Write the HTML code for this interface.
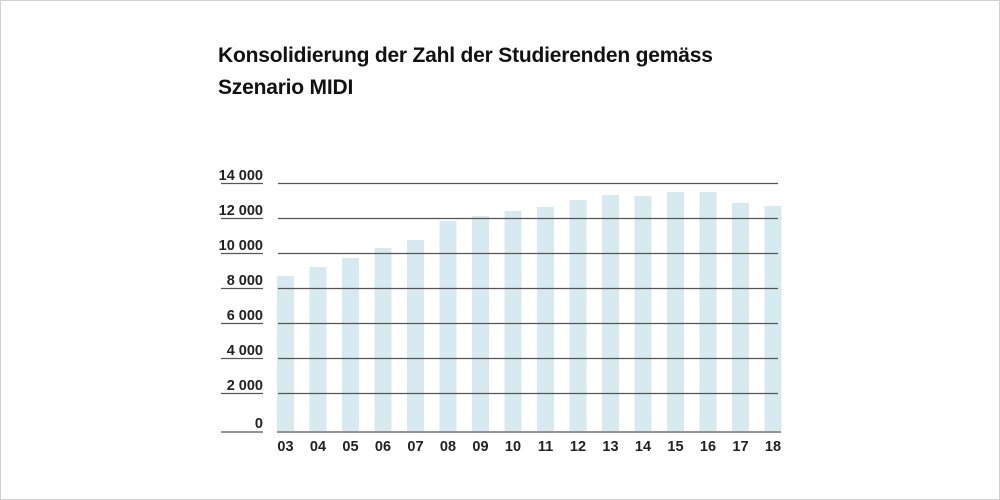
<!DOCTYPE html>
<html><head><style>
html,body{margin:0;padding:0;background:#fff}
body{width:1000px;height:500px;position:relative;overflow:hidden;font-family:"Liberation Sans",Arial,sans-serif}
.frame{position:absolute;left:0;top:0;width:998px;height:498px;border:1px solid #d0d0d0}
.t{position:absolute;left:218px;font-weight:bold;font-size:21px;color:#111;letter-spacing:-0.2px}
</style></head><body>
<div class="frame"></div>
<div class="t" style="top:44px">Konsolidierung der Zahl der Studierenden gemäss</div>
<div class="t" style="top:76px">Szenario MIDI</div>
<svg width="1000" height="500" style="position:absolute;left:0;top:0" font-family="Liberation Sans, Arial, sans-serif">
<g fill="#d7eaf0">
<rect x="277" y="276" width="17" height="155"/>
<rect x="309.5" y="267" width="17" height="164"/>
<rect x="342" y="258" width="17" height="173"/>
<rect x="374.5" y="248" width="17" height="183"/>
<rect x="407" y="240" width="17" height="191"/>
<rect x="439.5" y="221" width="17" height="210"/>
<rect x="472" y="216" width="17" height="215"/>
<rect x="504.5" y="211" width="17" height="220"/>
<rect x="537" y="207" width="17" height="224"/>
<rect x="569.5" y="200" width="17" height="231"/>
<rect x="602" y="195" width="17" height="236"/>
<rect x="634.5" y="196" width="17" height="235"/>
<rect x="667" y="192" width="17" height="239"/>
<rect x="699.5" y="192" width="17" height="239"/>
<rect x="732" y="203" width="17" height="228"/>
<rect x="764.5" y="206" width="17" height="225"/>
</g>
<g stroke="#555" stroke-width="1.3">
<line x1="278" x2="778" y1="183.5" y2="183.5"/>
<line x1="278" x2="778" y1="218.5" y2="218.5"/>
<line x1="278" x2="778" y1="253.5" y2="253.5"/>
<line x1="278" x2="778" y1="288.5" y2="288.5"/>
<line x1="278" x2="778" y1="323.5" y2="323.5"/>
<line x1="278" x2="778" y1="358.5" y2="358.5"/>
<line x1="278" x2="778" y1="393.5" y2="393.5"/>
<line x1="277" x2="781" y1="432" y2="432"/>
<line x1="221" x2="263" y1="183.5" y2="183.5"/>
<line x1="221" x2="263" y1="218.5" y2="218.5"/>
<line x1="221" x2="263" y1="253.5" y2="253.5"/>
<line x1="221" x2="263" y1="288.5" y2="288.5"/>
<line x1="221" x2="263" y1="323.5" y2="323.5"/>
<line x1="221" x2="263" y1="358.5" y2="358.5"/>
<line x1="221" x2="263" y1="393.5" y2="393.5"/>
<line x1="221" x2="263" y1="432" y2="432"/>
</g>
<g font-size="14.5" font-weight="bold" fill="#222" text-anchor="end">
<text x="263" y="180">14 000</text>
<text x="263" y="215">12 000</text>
<text x="263" y="250">10 000</text>
<text x="263" y="285">8 000</text>
<text x="263" y="320">6 000</text>
<text x="263" y="355">4 000</text>
<text x="263" y="390">2 000</text>
<text x="263" y="428">0</text>
</g>
<g font-size="14.5" font-weight="bold" fill="#222" text-anchor="middle">
<text x="285.5" y="451">03</text><text x="318" y="451">04</text><text x="350.5" y="451">05</text><text x="383" y="451">06</text>
<text x="415.5" y="451">07</text><text x="448" y="451">08</text><text x="480.5" y="451">09</text><text x="513" y="451">10</text>
<text x="545.5" y="451">11</text><text x="578" y="451">12</text><text x="610.5" y="451">13</text><text x="643" y="451">14</text>
<text x="675.5" y="451">15</text><text x="708" y="451">16</text><text x="740.5" y="451">17</text><text x="773" y="451">18</text>
</g>
</svg>
</body></html>
